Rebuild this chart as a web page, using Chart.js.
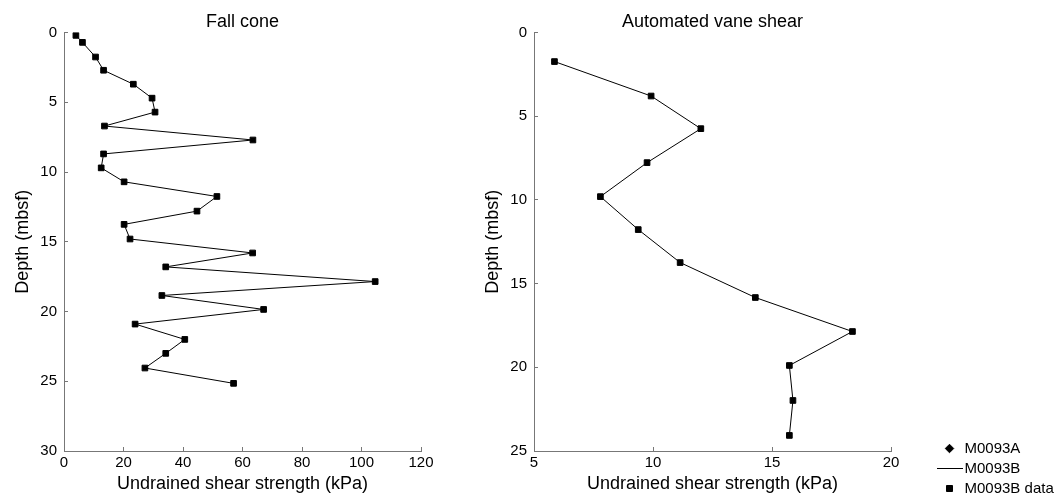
<!DOCTYPE html>
<html>
<head>
<meta charset="utf-8">
<script src="https://cdn.jsdelivr.net/npm/chart.js@4"></script>
<style>
  body { margin: 0; background: #fff; }
  .panel { position: absolute; top: 0; height: 495px; }
</style>
</head>
<body>
<div class="panel" style="left:0;width:470px"><canvas id="fallCone" width="470" height="495"></canvas></div>
<div class="panel" style="left:470px;width:587px"><canvas id="vane" width="587" height="495"></canvas></div>
<script>
// fall cone, M0093B
const fallDepth = [0.2, 0.7, 1.75, 2.7, 3.7, 4.7, 5.7, 6.7, 7.7, 8.7, 9.7, 10.7, 11.75, 12.8, 13.75, 14.8, 15.8, 16.8, 17.85, 18.85, 19.85, 20.9, 22.0, 23.0, 24.05, 25.15];
const fallSu = [4.0, 6.2, 10.6, 13.3, 23.3, 29.6, 30.6, 13.6, 63.5, 13.3, 12.5, 20.2, 51.4, 44.7, 20.2, 22.2, 63.4, 34.2, 104.6, 32.9, 67.1, 23.9, 40.6, 34.2, 27.2, 57.0];

// automated vane shear, M0093B
const vaneDepth = [1.73, 3.79, 5.74, 7.77, 9.8, 11.77, 13.74, 15.83, 17.86, 19.89, 21.98, 24.07];
const vaneSu = [5.86, 9.92, 12.01, 9.75, 7.79, 9.38, 11.14, 14.3, 18.38, 15.73, 15.88, 15.73];

// no M0093A values shown in this plot
const m0093aDepth = [];
const m0093aSu = [];

const xTitle = 'Undrained shear strength (kPa)';
const yTitle = 'Depth (mbsf)';
const axisGrey = '#777';

Chart.defaults.font.family = "'Liberation Sans', Arial, sans-serif";
Chart.defaults.color = '#000';
Chart.defaults.animation = false;

// legend glyph for the line entry (a plain stroke)
const lineGlyph = document.createElement('canvas');
lineGlyph.width = 26;
lineGlyph.height = 1;
const lg = lineGlyph.getContext('2d');
lg.fillStyle = '#000';
lg.fillRect(0, 0, 26, 1);

function pts(xs, ys) {
  return xs.map((v, i) => ({ x: v, y: ys[i] }));
}

function lineSet(label, xs, ys) {
  return {
    label: label, data: pts(xs, ys), showLine: true,
    borderColor: '#000', backgroundColor: '#000', borderWidth: 1,
    pointRadius: 0, pointStyle: lineGlyph, tension: 0
  };
}

function markSet(label, xs, ys, style) {
  return {
    label: label, data: pts(xs, ys), showLine: false,
    borderColor: '#000', backgroundColor: '#000',
    pointStyle: style, pointRadius: 4, pointBorderWidth: 1
  };
}

function axes(xMin, xMax, xStep, yMax, xHeight, titleBottom) {
  const common = {
    border: { color: axisGrey, width: 1 },
    grid: { drawOnChartArea: false, drawTicks: true, tickLength: -4, color: axisGrey },
    ticks: { font: { size: 15 }, color: '#000' }
  };
  return {
    x: {
      type: 'linear', min: xMin, max: xMax, ...common,
      ticks: { ...common.ticks, stepSize: xStep, padding: 7 },
      title: { display: true, text: xTitle, font: { size: 18 }, padding: { top: 0, bottom: titleBottom } },
      afterFit: s => { s.height = xHeight; }
    },
    y: {
      type: 'linear', reverse: true, min: 0, max: yMax, ...common,
      ticks: { ...common.ticks, stepSize: 5, padding: 11 },
      title: { display: true, text: yTitle, font: { size: 18 }, padding: { top: 12, bottom: 0 } },
      afterFit: s => { s.width = 64; }
    }
  };
}

function titleOpts(text) {
  return { display: true, text: text, fullSize: false, color: '#000',
    font: { size: 18, weight: 'normal' }, padding: { top: 11, bottom: 0 } };
}

new Chart(document.getElementById('fallCone'), {
  type: 'scatter',
  data: {
    datasets: [
      lineSet('M0093B', fallSu, fallDepth),
      markSet('M0093B data', fallSu, fallDepth, 'rect')
    ]
  },
  options: {
    responsive: false,
    devicePixelRatio: 1,
    layout: { padding: { left: 0, right: 49, top: 0, bottom: 0 } },
    scales: axes(0, 120, 20, 30, 44, 0),
    plugins: {
      legend: { display: false },
      tooltip: { enabled: false },
      title: titleOpts('Fall cone')
    }
  }
});

const vaneScales = axes(5, 20, 5, 25, 50, 6);
// empty spacer on the right so the legend sits clear of the plot
vaneScales.spacer = {
  type: 'linear', position: 'right', display: true,
  grid: { display: false }, border: { display: false }, ticks: { display: false },
  afterFit: s => { s.width = 46; }
};

new Chart(document.getElementById('vane'), {
  type: 'scatter',
  data: {
    datasets: [
      markSet('M0093A', m0093aSu, m0093aDepth, 'rectRot'),
      lineSet('M0093B', vaneSu, vaneDepth),
      markSet('M0093B data', vaneSu, vaneDepth, 'rect')
    ]
  },
  options: {
    responsive: false,
    devicePixelRatio: 1,
    layout: { padding: { left: 0, right: 0, top: 0, bottom: -6 } },
    scales: vaneScales,
    plugins: {
      legend: {
        position: 'right', align: 'end', maxWidth: 120,
        labels: {
          usePointStyle: true, boxHeight: 6,
          padding: 5, color: '#000', font: { size: 15 }
        }
      },
      tooltip: { enabled: false },
      title: titleOpts('Automated vane shear')
    }
  }
});
</script>
</body>
</html>
